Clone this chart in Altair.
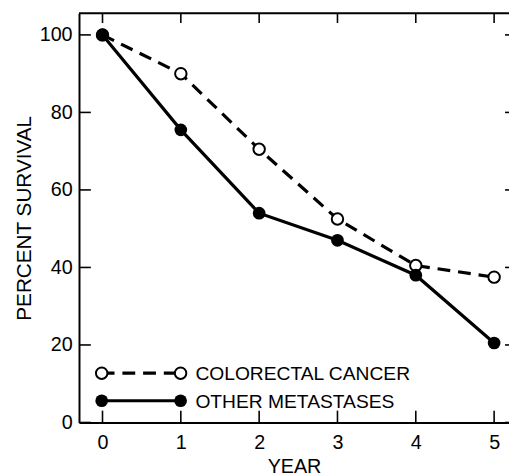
import altair as alt
import pandas as pd

# ---- data ----
years = [0, 1, 2, 3, 4, 5]
colorectal = [100, 90, 70.5, 52.5, 40.5, 37.5]
other = [100, 75.5, 54, 47, 38, 20.5]
series_names = ["COLORECTAL CANCER", "OTHER METASTASES"]
x_ticks = [0, 1, 2, 3, 4, 5]
y_ticks = [0, 20, 40, 60, 80, 100]

W, H = 436, 415
FONT = "Liberation Sans"
FS = 20

df_c = pd.DataFrame({"year": years, "pct": colorectal})
df_o = pd.DataFrame({"year": years, "pct": other})
dummy = pd.DataFrame({"k": [0]})

xs = alt.Scale(domain=[-0.30, 5.19], nice=False, zero=False)
ys = alt.Scale(domain=[0, 105.6], nice=False, zero=False)

x_axis = alt.Axis(values=x_ticks, title="YEAR", format="d", ticks=False, tickSize=0,
                  labelPadding=10, titlePadding=5, labelFlush=False, grid=False,
                  domain=True, domainColor="black", domainWidth=2)
y_axis = alt.Axis(values=y_ticks, title="PERCENT SURVIVAL", format="d", ticks=False, tickSize=0,
                  labelPadding=7, titlePadding=5, labelFlush=False, grid=False,
                  titleFontSize=21,
                  domain=True, domainColor="black", domainWidth=2)


def X(field):
    return alt.X(field, scale=xs, axis=x_axis)


def Y(field):
    return alt.Y(field, scale=ys, axis=y_axis)


OPEN = dict(shape="circle", filled=True, fill="white", stroke="black",
            strokeWidth=2, size=135, opacity=1)
FILLED = dict(shape="circle", filled=True, color="black", size=165, opacity=1)
DASH = [13, 8]
LW = 3.2

# series lines and markers
line_c = alt.Chart(df_c).mark_line(color="black", strokeWidth=LW, strokeDash=DASH).encode(
    x=X("year:Q"), y=Y("pct:Q"))
line_o = alt.Chart(df_o).mark_line(color="black", strokeWidth=LW).encode(
    x=X("year:Q"), y=Y("pct:Q"))
pts_c = alt.Chart(df_c).mark_point(**OPEN).encode(x=X("year:Q"), y=Y("pct:Q"))
pts_o = alt.Chart(df_o).mark_point(**FILLED).encode(x=X("year:Q"), y=Y("pct:Q"))

# inward tick marks and top frame line
xt = pd.DataFrame({"year": x_ticks})
yt = pd.DataFrame({"pct": y_ticks})
tick_bottom = alt.Chart(xt).mark_rule(color="black", strokeWidth=1.6).encode(
    x=X("year:Q"), y=alt.value(H), y2=alt.value(H - 12))
tick_top = alt.Chart(xt).mark_rule(color="black", strokeWidth=1.6).encode(
    x=X("year:Q"), y=alt.value(0), y2=alt.value(10))
tick_left = alt.Chart(yt).mark_rule(color="black", strokeWidth=1.6).encode(
    y=Y("pct:Q"), x=alt.value(0), x2=alt.value(12))
tick_right = alt.Chart(yt).mark_rule(color="black", strokeWidth=1.6).encode(
    y=Y("pct:Q"), x=alt.value(W - 4), x2=alt.value(W))
top_frame = alt.Chart(dummy).mark_rule(color="black", strokeWidth=2).encode(
    x=alt.value(0), x2=alt.value(W), y=alt.value(0))


def legend_row(yp, label, open_marker, dashed):
    base = alt.Chart(dummy)
    rule_kw = dict(color="black", strokeWidth=LW)
    if dashed:
        rule_kw["strokeDash"] = DASH
    ln = base.mark_rule(**rule_kw).encode(x=alt.value(23), x2=alt.value(103), y=alt.value(yp))
    pkw = OPEN if open_marker else FILLED
    p1 = base.mark_point(**pkw).encode(x=alt.value(23), y=alt.value(yp))
    p2 = base.mark_point(**pkw).encode(x=alt.value(103), y=alt.value(yp))
    tx = base.mark_text(align="left", baseline="middle", font=FONT, fontSize=19.5,
                        color="black").encode(x=alt.value(118), y=alt.value(yp + 1),
                                              text=alt.value(label))
    return [ln, p1, p2, tx]


legend_layers = legend_row(365, series_names[0], True, True) + \
    legend_row(393, series_names[1], False, False)

chart = alt.layer(
    line_c, line_o, pts_c, pts_o,
    tick_bottom, tick_top, tick_left, tick_right, top_frame,
    *legend_layers,
).properties(
    width=W, height=H,
    autosize=alt.AutoSizeParams(type="none"),
    padding={"left": 72, "top": 2, "right": 0, "bottom": 51},
    background="white",
).configure_view(strokeWidth=0).configure_axis(
    labelFont=FONT, labelFontSize=FS, labelColor="black",
    titleFont=FONT, titleFontSize=FS, titleColor="black", titleFontWeight="normal",
)

chart.save("out.html", embed_options={"renderer": "svg", "actions": False})
